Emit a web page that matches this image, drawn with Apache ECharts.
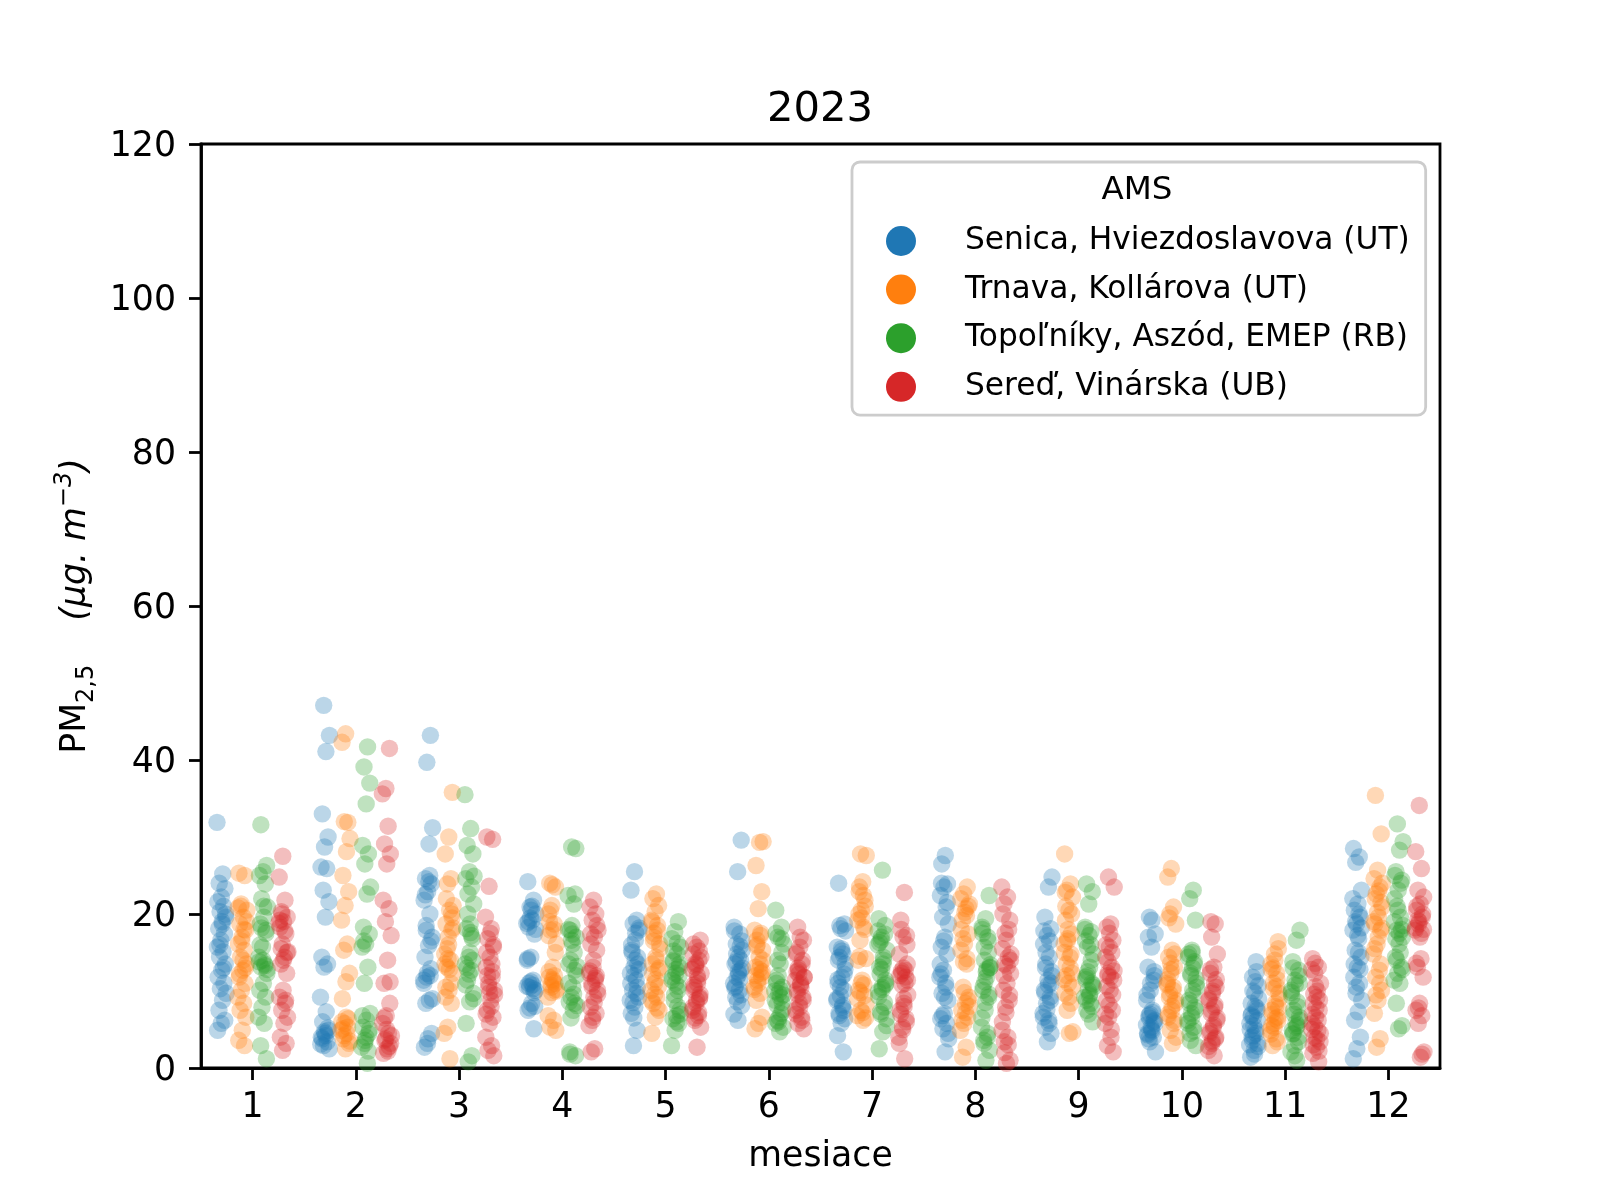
<!DOCTYPE html>
<html>
<head>
<meta charset="utf-8">
<script src="https://cdn.jsdelivr.net/npm/echarts@6/dist/echarts.min.js"></script>
<style>html,body{margin:0;padding:0;background:#fff}#c{width:1600px;height:1200px}</style>
</head>
<body>
<div id="c"></div>
<script>
const months = ['1','2','3','4','5','6','7','8','9','10','11','12'];
const stations = ['Senica, Hviezdoslavova (UT)', 'Trnava, Kollárova (UT)', 'Topoľníky, Aszód, EMEP (RB)', 'Sereď, Vinárska (UB)'];
const colors = ['#1f77b4', '#ff7f0e', '#2ca02c', '#d62728'];
const yTicks = [0, 20, 40, 60, 80, 100, 120];

const senica = [
  [31.9,25.2,24,23.3,22.2,21.6,21,20.3,19.6,18.7,18.1,17.4,16.6,15.7,15.1,14.4,13.5,12.7,11.8,11,10.3,9.7,8.8,7.5,6.2,5.8,4.9,13,16,20,19],
  [47.1,43.2,41.1,33,30,28.7,26.1,25.9,23.1,21.6,19.6,14.4,13.5,13.1,9.2,7.3,6,4.9,4.5,4,3.4,2.9,2.5,4.2,3.8,5.2,4.7,3.1],
  [43.2,39.7,31.2,29.1,24.6,23.9,22.9,21.8,20,17.9,17,15.9,14.4,12.9,12.3,11.4,8.8,8.4,4.5,3.8,2.7,12,11.8,9,24.2,22.5,16.5,3.2,11,25,18.5],
  [24.2,21.8,20.9,20,19.2,18.3,17.4,14.4,14,11.4,10.5,10.1,8.4,7.5,5.1,19.5,18.8,10.8,11,8,20.5,14.2,10.3,7.8,18,21,19,9.8,11.2,10.6],
  [25.5,23.1,19.2,18.7,17.9,16.6,15.3,14.4,13.1,12.3,11.4,10.1,9.2,7.9,7.1,4.9,2.9,18.2,17.5,15,13.5,12,11,9.7,8.5,12.8,14,16,10.5,6.5,8.8],
  [29.6,25.5,18.3,17.4,16.1,15.3,14.4,13.5,12.7,11.8,11,10.1,9.2,8.1,6.2,17.8,15.8,14.8,13,12.2,10.6,9.5,8.6,7,11.5,13.8,16.5,12.5,10.4,14],
  [24,18.7,18.1,15.7,14.8,14.4,13.5,11.8,11,10.1,9.4,8.8,7.9,7.1,6.4,5.8,4.2,2.1,18.5,17.8,15.2,14,12.2,10.5,9,8.2,6.8,12.8,15.5,11.5,7.5],
  [27.6,26.5,23.9,23.5,22.4,20.9,19.6,18.7,17,15.7,14.8,12.7,11.8,11,9.7,8.8,7.1,6.4,5.8,5.1,3.8,2.1,24,21.5,16.5,13.5,10.5,6.8,4.5,9.2,12.2],
  [24.8,23.5,19.6,18.1,17.2,16.1,14.4,13.5,12.5,11.4,10.1,9.2,8.4,7.1,6.2,5.3,4.5,3.4,17.8,16.5,15,12,10.8,9.8,8.8,7.6,6.6,5.8,13,11],
  [19.6,17.4,15.7,13.1,11.4,10.1,8.8,7.5,6.8,6.2,5.3,4.5,4,3.4,2.1,19.2,17,12.5,11,9.5,7.2,6.5,5.8,5,4.3,6,7,5.6,4.8,3.8,12],
  [13.8,11.8,10.7,9.7,8.4,7.5,6.6,5.8,4.9,4,3.2,2.3,1.4,12.5,10,9,8,7,6.2,5.5,5,4.5,3.6,2.8,1.8,6.8,7.8,4.2,3,11.2],
  [28.5,27.4,26.7,23.1,21.3,20.5,19.6,18.7,17.9,16.8,15.3,14.4,13.1,11.8,11,9.7,8.8,7.3,6.2,4,2.5,1.2,20,19,18.2,17.2,13.5,12.8,10.5,22,15]
];
const trnava = [
  [25.3,25,21.3,20.5,19.6,18.7,17.9,17,16.1,15.3,14.4,13.5,12.7,11.8,11,10.1,9.2,8.4,7.5,6.6,4.9,3.6,2.9,21,19,14,12.2,13,16.5,20.8,18],
  [43.4,42.3,31.9,32,29.8,28.1,25,22.9,21.1,19.2,16.1,15.3,12.3,11.2,9,6.4,5.8,4.9,4.5,3.8,3.2,2.5,6,5.3,4.2,3.5,6.6,5.1],
  [35.8,30,27.8,24.6,23.9,21.1,20.5,18.7,17.9,17,14.8,14,13.1,12.3,10.1,9.2,8.4,5.3,4.5,1.2,22,19.5,16,13.5,11,15.5,18.2,12.8,10.5,20,14.2],
  [24,23.5,21.1,20,18.7,17.9,16.1,13.1,11.8,11,10.5,9.2,6.2,5.3,4.9,23.8,17.2,12,10.8,10.2,11.3,19,15,9.8,6.8,18,20.5,10,11.5,12.5],
  [22.6,22,21.1,20.3,19.2,17.9,17,16.1,14.4,13.5,12.7,11,10.1,9.2,8.4,7.5,6.6,4.5,18.5,17.5,15.5,14,12.2,10.6,9.6,8.8,7.8,16.5,13,11.5,19],
  [29.4,29.3,26.3,22.9,20.7,17.9,17.2,16.6,15.3,14.4,13.1,12.3,11.4,10.5,9.7,8.8,6.6,5.8,5.1,17.5,16,14,12.8,12,11.8,11,10.2,13.5,15.8,12.5],
  [27.8,27.6,24.2,22.9,21.8,20.5,19.2,18.3,16.6,14.2,11.4,10.1,9.4,7.5,6.8,6.2,23.5,21,19.5,14,10.8,9.8,8.2,7.2,20,18,11,9,22.4,14.5,6.5],
  [23.5,22.6,21.3,20.7,19.2,17.4,16.1,15.3,13.5,10.5,9.2,8.4,7.5,6.6,5.8,4.9,2.7,1.4,21,20.2,18,14.2,13.8,8,7.2,6.2,8.8,9.8,22,19.8,16.8],
  [27.8,23.9,23.1,22.2,20.5,19.2,17.4,16.8,16.1,14.4,13.5,12.3,11,9.7,8.4,7.5,4.7,4.5,21,20,18,15,13,12,10.5,9.2,22.8,14.8,16.5,11.5],
  [25.9,24.8,20.9,20,18.7,15.3,14.4,13.1,12.3,11,10.1,9.2,8.4,7.5,6.6,5.8,4.9,4,3.2,19.5,14.8,12.8,11.5,10.5,9.6,8.8,8,7,6.2,13.6,10.8],
  [16.4,14.8,13.5,12.3,11,9.7,8.4,7.5,6.6,5.8,4.9,3.8,2.9,15.5,14,12.8,11.5,10.3,9,8,7,6.2,5.3,4.4,10.6,13,7.8,6.4,5.5,3.4],
  [35.4,30.4,25.7,24.6,23.5,22.6,20.9,19.6,18.7,17.9,16.1,14.8,12.7,11.8,10.1,8.8,7.1,3.8,2.7,24,23,22,21.5,20.2,19,11,9.5,18.2,17,15.5,13.5]
];
const topolniky = [
  [31.6,26.3,25.5,25,23.9,22,20.9,19.6,18.7,17.9,15.7,14.4,13.5,13.1,12.3,11,10.1,9.2,7.9,6.6,5.8,2.9,1.2,14,13.8,13.3,18.2,12.8,21,16,17.5],
  [41.7,39.1,37,34.3,28.9,27.8,26.5,23.5,22.6,18.3,17.4,16.1,15.7,13.1,11,7.1,6.2,5.3,4.5,3.6,2.7,0.6,16.5,5,4,6.8,2.2,3.2],
  [35.5,31.1,28.9,27.8,25.5,24.6,23.5,22.6,21.3,18.7,18.1,16.8,14.4,13.5,12.7,11.4,9.7,8.6,5.8,1.6,0.8,24.9,17.6,13,14,12.2,10.8,17.2,20,9,15],
  [28.7,22.4,21.3,17.9,17,16.1,13.5,12.7,9.2,8.1,7.5,2.1,1.6,18.5,18,15,14,12,10.5,8.6,22.6,16.6,13.2,9.6,1.8,28.5,17.4,11,8.4,6.5],
  [19,17.7,15.7,14.8,14,13.1,12.3,11.4,10.1,8.8,7.5,6.8,6.4,5.8,4.9,2.9,16.2,15.2,13.5,12.8,11.8,10.6,9.5,7,6,13.8,12,11,16.8,8],
  [20.5,18.3,17,16.1,13.5,11.4,10.5,9.7,8.8,7.1,6.2,5.3,4.7,17.5,15,12,10,9.2,8.2,7.6,6.6,5.8,16.8,14,9.5,10.2,11,8.5,6],
  [25.7,19.4,17.4,16.6,15.3,14.4,13.1,11.4,10.5,9.9,7.9,7.3,6.4,4.7,2.5,18.5,17,16,14,12.2,11,10.2,9.3,8.5,7,5.5,13.5,16.3,10.8,12.8,17.8],
  [22.4,19.4,18.3,17,15.7,13.1,11.8,10.1,9.2,7.5,5.3,4,3.6,2.3,1,18,16.5,14,13.4,12.8,10.6,9.6,8.5,6.5,4.5,3.2,13,12.5,17.5,15,11.2],
  [23.9,22.9,21.3,18.3,17.7,15.7,14.8,13.1,11.8,11,10.1,9.2,8.4,7.5,6,17.2,16.5,14,12.5,10.5,9.6,8.8,8,7,18,16,12,10.8,9.4,11.5],
  [23.1,22,19.2,15.3,14.4,13.5,12.3,11,10.1,8.8,7.9,7.1,6.2,5.3,4.5,2.9,15,14.8,13.8,12,10.5,9.5,8.4,7.5,6.6,5.8,4.8,3.6,11.6,13],
  [17.9,16.6,13.8,12.7,11.4,10.1,8.6,7.5,6.6,5.8,4.9,4,2.9,2.1,1,13,12,10.8,9.3,8,7,6.2,5.3,4.4,3.4,1.6,9.8,5.5,4.5,11],
  [31.7,29.4,28.3,25.5,24.4,23.1,22,19.6,17.9,17,16.1,14.4,13.1,12.3,11.4,11,8.4,5.5,5.1,25,24,21,18.5,17.5,16.8,18,20.5,19,15,14,12.8]
];
const sered = [
  [27.5,24.8,21.8,20.3,19.6,19,18.3,17.4,16.1,15.1,14.4,13.5,12.3,10.1,9.2,8.4,7.5,6.6,5.8,4,3.2,2.3,18.8,17.8,15.5,15,14,19.2,8.8,20],
  [41.5,36.3,35.6,31.4,29.1,27.8,26.5,21.8,20.7,19,17.2,14,11,8.4,6.8,5.8,4.5,3.6,3.2,2.5,1.9,2.8,3.8,4.2,2.2,6.5,11.2,5],
  [30,29.7,23.6,19.6,18.1,16.8,15.7,14.4,13.1,11.8,11,10.1,8.8,7.5,6.6,5.8,4,2.9,2.3,1.6,17.5,15,12.5,10.5,9.5,8,12,16,9.8,7,13.5],
  [21.8,20.9,20,19.2,17.9,17,16.1,15.3,13.1,12.3,11.4,11,10.1,9.2,7.9,7.1,6.2,5.5,2.5,2.1,18.5,14,12.6,11.7,10.6,9.6,8.5,17.4,12,6.6],
  [16.6,15.7,14.8,14,13.1,12.3,11,10.1,9.2,8.4,7.5,6.8,6.2,5.3,2.7,16.1,15.2,13.6,12.8,11.5,10.5,9.6,8.8,7.9,7.2,6.5,14.4,12,10.8,9,13.4],
  [18.3,16.6,15.7,14.8,13.5,12.7,11.8,11,10.1,9.2,8.4,7.5,6.6,5.8,5.1,17,15,14,12.2,11.4,10.5,9.6,8.8,7.9,7,6.2,13,11.8,10.8,12.5],
  [22.8,19.2,17.2,17,14.8,12.7,12.3,11.4,8.4,7.5,6.4,5.3,4,1.2,18,16,13,12,11.8,10.8,9.5,8,7,6,5,3.2,11,12.6,13.5,9],
  [23.5,22.2,21.3,19.2,16.6,15.5,14.4,13.5,12.3,11,10.1,8.8,7.9,4.9,4,3.4,1,0.6,20,18,17.5,14.8,13.2,12,9.5,7.2,6,3,2,14],
  [24.8,23.5,18.7,18.3,16.6,15.7,14.4,13.1,12.3,11.4,10.1,8.8,7.5,6.6,5.8,4,2.9,2.1,17.5,16,15,13.8,12.6,11.8,10.6,9.5,8.2,7,5,12],
  [18.7,17,14.8,13.1,12.3,10.5,9.7,8.8,7.9,7.1,6.2,5.3,4.5,3.8,3.2,2.3,1.6,12.8,11.5,10,9,8.2,7.5,6.5,5.6,4.8,4,3.5,2.8,11,19],
  [14.2,13.1,12.3,11,9.2,8.4,7.5,6.6,5.8,4.9,4,3.4,2.7,1.9,0.8,13.6,12.8,10,9.6,8.8,7.8,7,6.2,5.4,4.5,3.8,3,2.2,10.6,5],
  [34.1,28.1,25.9,23.1,22.2,21.3,20.5,19.6,18.7,17.9,14.2,13.1,11.8,8.4,7.5,6.8,5.8,2.1,1.4,21,20,19,18.2,17.5,19.2,18,17,13.6,1.8,7.8]
];

const stationData = [senica, trnava, topolniky, sered];
const FONT = 'DejaVu Sans';
const FS = 34.7;
const LFS = 31.25;
// layout: dodge offsets within a month band and a deterministic strip jitter
const dodge = [-0.3, -0.1, 0.1, 0.3];
const jitterWidth = 0.09;

function buildPoints(s) {
  const pts = [];
  stationData[s].forEach((vals, m) => {
    vals.forEach((v, i) => {
      const frac = ((i * 0.6180339 + m * 0.371 + s * 0.137) % 1) - 0.5;
      pts.push([m + 1 + dodge[s] + frac * jitterWidth, v]);
    });
  });
  return pts;
}

const chart = echarts.init(document.getElementById('c'), null, {renderer: 'canvas'});
const series = stations.map((name, s) => ({
  name: name,
  type: 'scatter',
  xAxisIndex: 0,
  yAxisIndex: 0,
  symbol: 'circle',
  symbolSize: 17.4,
  itemStyle: {color: colors[s], opacity: 0.3},
  emphasis: {disabled: true},
  data: buildPoints(s)
}));

chart.setOption({
  animation: false,
  backgroundColor: '#ffffff',
  color: colors,
  grid: {left: 201, right: 160, top: 144, bottom: 132, show: true, borderColor: '#000', borderWidth: 2.8, backgroundColor: 'transparent'},
  graphic: [
    {type: 'text', x: 820, y: 110, style: {text: '2023', font: '41.7px "' + FONT + '"', fill: '#000', textAlign: 'center', textVerticalAlign: 'middle'}, z: 100},
    {type: 'text', x: 1137, y: 191, style: {text: 'AMS', font: '32.5px "' + FONT + '"', fill: '#000', textAlign: 'center', textVerticalAlign: 'middle'}, z: 100}
  ],
  legend: {
    orient: 'vertical',
    left: 852, top: 162,
    padding: [59, 16, 8.3, 34],
    itemGap: 8.6,
    itemWidth: 30, itemHeight: 30,
    icon: 'circle',
    selectedMode: false,
    backgroundColor: 'rgba(255,255,255,0.8)',
    borderColor: '#cccccc', borderWidth: 2.8, borderRadius: 8,
    itemStyle: {opacity: 1},
    textStyle: {fontFamily: FONT, fontSize: LFS, color: '#000', lineHeight: 40, padding: [0, 0, 0, 44]},
    data: stations
  },
  xAxis: [
    {type: 'value', min: 0.5, max: 12.5, show: false, gridIndex: 0},
    {type: 'category', data: months, position: 'bottom', boundaryGap: true, gridIndex: 0,
     axisLine: {show: true, lineStyle: {color: '#000', width: 2.8}},
     axisTick: {show: true, alignWithLabel: true, length: 12, lineStyle: {color: '#000', width: 2.8}},
     axisLabel: {fontFamily: FONT, fontSize: FS, color: '#000', margin: 22},
     splitLine: {show: false},
     name: 'mesiace', nameLocation: 'middle', nameGap: 71,
     nameTextStyle: {fontFamily: FONT, fontSize: FS, color: '#000'}}
  ],
  yAxis: [{
    type: 'value', min: yTicks[0], max: yTicks[yTicks.length - 1], interval: yTicks[1] - yTicks[0],
    axisLine: {show: true, lineStyle: {color: '#000', width: 2.8}},
    axisTick: {show: true, length: 12, lineStyle: {color: '#000', width: 2.8}},
    axisLabel: {
      fontFamily: FONT, fontSize: FS, color: '#000', margin: 25,
      formatter: '{t|{value}}',
      rich: {t: {fontFamily: FONT, fontSize: FS, color: '#000', padding: [6, 0, 0, 0]}}
    },
    splitLine: {show: false},
    name: '{n|PM}{sub|2,5}{n|    }{i|(μg. m}{sup|−3}{i|)}',
    nameLocation: 'middle', nameRotate: 90, nameGap: 101,
    nameTextStyle: {
      fontFamily: FONT, fontSize: FS, color: '#000',
      rich: {
        n: {fontFamily: FONT, fontSize: FS, color: '#000', lineHeight: 46, verticalAlign: 'middle'},
        sub: {fontFamily: FONT, fontSize: 24, color: '#000', lineHeight: 24, verticalAlign: 'bottom'},
        i: {fontFamily: FONT, fontSize: FS, fontStyle: 'italic', color: '#000', lineHeight: 46, verticalAlign: 'middle'},
        sup: {fontFamily: FONT, fontSize: 24, fontStyle: 'italic', color: '#000', lineHeight: 24, verticalAlign: 'top'}
      }
    }
  }],
  series: series
});
</script>
</body>
</html>
